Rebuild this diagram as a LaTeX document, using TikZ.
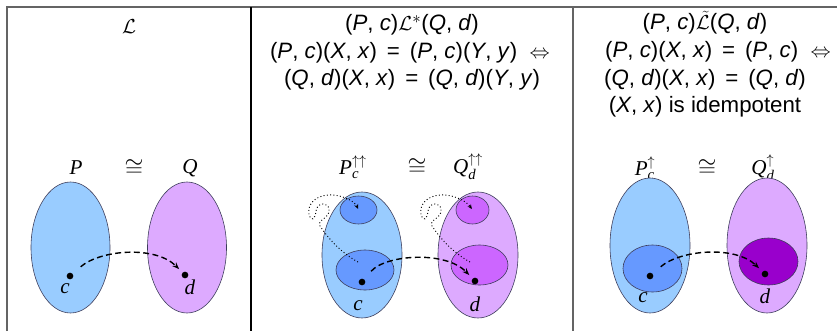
\documentclass[tikz,border=0pt]{standalone}
\usepackage{amsmath,amssymb}
\usepackage{fontspec}
\setmainfont{Liberation Serif}
\setsansfont{Liberation Sans}
\usetikzlibrary{arrows.meta, positioning, shapes.geometric}

\definecolor{setblue}{RGB}{153,204,255}
\definecolor{innerblue}{RGB}{102,153,255}
\definecolor{setpurple}{RGB}{221,170,255}
\definecolor{innerpurple}{RGB}{204,102,255}
\definecolor{darkpurple}{RGB}{153,0,204}
\definecolor{rim}{RGB}{60,60,90}
\definecolor{rule}{RGB}{100,100,100}

\begin{document}
\begin{tikzpicture}[
    x=0.03cm, y=-0.03cm,
    head/.style={font=\sffamily\fontsize{19}{23}\selectfont, inner sep=0pt},
    lab/.style={font=\itshape\fontsize{18}{20}\selectfont, inner sep=0pt},
    iso/.style={font=\fontsize{21}{22}\selectfont, inner sep=0pt},
    blob/.style={ellipse, draw=rim, line width=0.5pt, inner sep=0pt},
    dot/.style={circle, fill=black, minimum size=0.2cm, inner sep=0pt},
    maparrow/.style={line width=1.2pt, dash pattern=on 5pt off 3pt,
        -{Stealth[length=6pt, width=4.5pt]}, shorten <=9pt, shorten >=4pt},
    loopline/.style={line width=0.8pt, dotted, -{Stealth[length=4pt, width=3.5pt]}, shorten >=1pt}
]
\useasboundingbox (0,0) rectangle (837,331);
\draw[rule, line width=1.5pt] (7,331) -- (7,7) -- (837,7);
\draw[black, line width=1.3pt] (251,7) -- (251,331);
\draw[rule, line width=1.5pt] (573,7) -- (573,331);

% column 1
\node[head] (h1) at (129,27) {$\mathcal{L}$};
\node[lab] (P1l) at (76,168) {P};
\node[iso] (iso1) at (134,168) {$\cong$};
\node[lab] (Q1l) at (190,168) {Q};
\node[blob, fill=setblue, minimum width=2.37cm, minimum height=3.93cm] (P1) at (70.5,247.5) {};
\node[blob, fill=setpurple, minimum width=2.37cm, minimum height=3.93cm] (Q1) at (187,247.5) {};
\node[dot] (c1) at (70,276) {};
\node[dot] (d1) at (185,275) {};
\node[lab] (c1l) at (65,289) {c};
\node[lab] (d1l) at (190,287) {d};
\draw[maparrow] (c1) .. controls (100,250) and (155,245) .. (d1);

% column 2
\node[head] (h2a) at (412,25) {(\textit{P}, \textit{c})$\mathcal{L}^*$(\textit{Q}, \textit{d})};
\node[head] (h2b) at (410,53) {(\textit{P}, \textit{c})(\textit{X}, \textit{x}) \,=\, (\textit{P}, \textit{c})(\textit{Y}, \textit{y})\; $\Leftrightarrow$};
\node[head] (h2c) at (412,80) {(\textit{Q}, \textit{d})(\textit{X}, \textit{x}) \,=\, (\textit{Q}, \textit{d})(\textit{Y}, \textit{y})};
\node[lab] (P2l) at (353,167) {P$_{\textit{c}}^{\uparrow\uparrow}$};
\node[iso] (iso2) at (417,167) {$\cong$};
\node[lab] (Q2l) at (468,167) {Q$_{\textit{d}}^{\uparrow\uparrow}$};
\node[blob, fill=setblue, minimum width=2.4cm, minimum height=3.78cm] (P2) at (362,255) {};
\node[blob, fill=setpurple, minimum width=2.4cm, minimum height=3.78cm] (Q2) at (478,255) {};
\node[blob, fill=innerblue, minimum width=1.11cm, minimum height=0.84cm] (P2s) at (358.5,210) {};
\node[blob, fill=innerblue, minimum width=1.74cm, minimum height=1.2cm] (P2b) at (365,270) {};
\node[blob, fill=innerpurple, minimum width=0.99cm, minimum height=0.84cm] (Q2s) at (472.5,210) {};
\node[blob, fill=innerpurple, minimum width=1.71cm, minimum height=1.2cm] (Q2b) at (479.5,265) {};
\coordinate (ps) at (358,262);
\coordinate (qs) at (470,262);
\draw[loopline] (ps) .. controls (340,252) and (328,238) .. (320,226)
    .. controls (316,220) and (331,218) .. (329,209)
    .. controls (328,202) and (317,202) .. (316,211)
    .. controls (315,220) and (311,222) .. (309,214)
    .. controls (307,204) and (316,194) .. (333,195)
    .. controls (345,196) and (355,202) .. (P2s.center);
\draw[loopline] (qs) .. controls (452,252) and (440,238) .. (432,226)
    .. controls (428,220) and (443,218) .. (441,209)
    .. controls (440,202) and (429,202) .. (428,211)
    .. controls (427,220) and (423,222) .. (421,214)
    .. controls (419,204) and (428,194) .. (445,195)
    .. controls (457,196) and (467,202) .. (Q2s.center);
\node[dot] (c2) at (362,282) {};
\node[dot] (d2) at (475,281) {};
\node[lab] (c2l) at (358,306) {c};
\node[lab] (d2l) at (475,304) {d};
\draw[maparrow] (c2) .. controls (385,255) and (445,250) .. (d2);

% column 3
\node[head] (h3a) at (705,23) {(\textit{P}, \textit{c})$\tilde{\mathcal{L}}$(\textit{Q}, \textit{d})};
\node[head] (h3b) at (718,52) {(\textit{P}, \textit{c})(\textit{X}, \textit{x}) \,=\, (\textit{P}, \textit{c})\; $\Leftrightarrow$};
\node[head] (h3c) at (705,80) {(\textit{Q}, \textit{d})(\textit{X}, \textit{x}) \,=\, (\textit{Q}, \textit{d})};
\node[head] (h3d) at (705,107) {(\textit{X}, \textit{x}) is idempotent};
\node[lab] (P3l) at (645,168) {P$_{\textit{c}}^{\uparrow}$};
\node[iso] (iso3) at (707,168) {$\cong$};
\node[lab] (Q3l) at (763,168) {Q$_{\textit{d}}^{\uparrow}$};
\node[blob, fill=setblue, minimum width=2.4cm, minimum height=4.05cm] (P3) at (650,245.5) {};
\node[blob, fill=setpurple, minimum width=2.4cm, minimum height=4.05cm] (Q3) at (767,245.5) {};
\node[blob, fill=innerblue, minimum width=1.77cm, minimum height=1.41cm] (P3b) at (652.5,268.5) {};
\node[blob, fill=darkpurple, minimum width=1.77cm, minimum height=1.41cm] (Q3b) at (768.5,261.5) {};
\node[dot] (c3) at (650,276) {};
\node[dot] (d3) at (765,274) {};
\node[lab] (c3l) at (643,298) {c};
\node[lab] (d3l) at (765,296) {d};
\draw[maparrow] (c3) .. controls (680,250) and (735,245) .. (d3);
\end{tikzpicture}
\end{document}
